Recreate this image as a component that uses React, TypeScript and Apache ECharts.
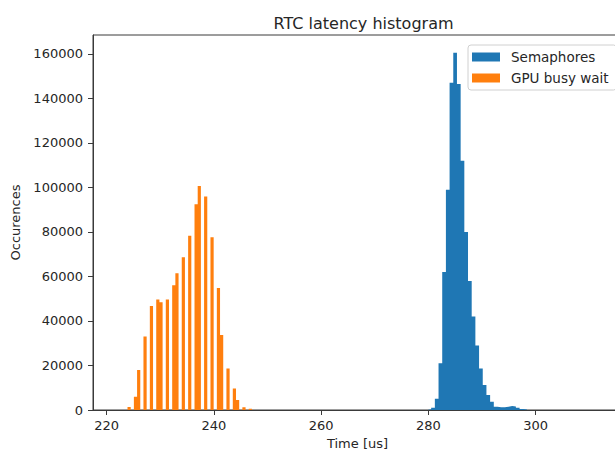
import React, { useEffect, useRef } from "react";
import * as echarts from "echarts";

// ---- data ----
const xTicks = [220, 240, 260, 280, 300];
const yTicks = [0, 20000, 40000, 60000, 80000, 100000, 120000, 140000, 160000];

// Semaphores histogram: first bin edge (us), bin width (us), counts per bin
const semaphoresStart = 279.82;
const semaphoresBinWidth = 0.687;
const semaphoresCounts = [
  300, 1000, 5000, 21000, 62000, 99000, 147000, 160500, 146500, 112000, 80000,
  58000, 42000, 29000, 18700, 11200, 6700, 3700, 1500, 1200, 1200, 1500, 1800,
  1600, 1000, 500, 200,
];

// GPU busy wait histogram
const gpuStart = 223.88;
const gpuBinWidth = 0.595;
const gpuCounts = [
  1300, 0, 6000, 18000, 0, 33000, 0, 46700, 0, 49700, 48400, 0, 49700, 0, 56000,
  61400, 0, 68600, 0, 78300, 0, 92400, 100700, 0, 95900, 0, 77600, 0, 54800,
  33700, 0, 18700, 0, 9700, 4500, 0, 1200, 0, 600,
];

// histogram as step points: [binStart, count] ... then closing edge at 0
const toSteps = (start: number, w: number, counts: number[]) => [
  [start, 0],
  ...counts.map((c, i) => [start + i * w, c]),
  [start + counts.length * w, 0],
];

const FONT = "DejaVu Sans";
const TXT = "#262626";
const AX = "#3a3a3a";

const histSeries = (name: string, color: string, data: number[][]) => ({
  name,
  type: "line",
  step: "end",
  symbol: "none",
  showSymbol: false,
  data,
  itemStyle: { color },
  lineStyle: { width: 0, color },
  areaStyle: { color, opacity: 1 },
  emphasis: { disabled: true },
});

export default function App() {
  const ref = useRef<HTMLDivElement>(null);
  useEffect(() => {
    if (!ref.current) return;
    const chart = echarts.init(ref.current, undefined, { renderer: "svg" });
    chart.setOption({
      animation: false,
      backgroundColor: "#fff",
      textStyle: { fontFamily: FONT },
      title: {
        text: "RTC latency histogram",
        left: 358.5,
        top: 10,
        textAlign: "center",
        textStyle: { fontFamily: FONT, fontSize: 16, fontWeight: "normal", color: TXT },
      },
      legend: {
        orient: "vertical",
        left: 468,
        top: 45,
        padding: [5, 8, 5, 4],
        itemWidth: 28,
        itemHeight: 9,
        itemGap: 7,
        icon: "rect",
        borderColor: "#d0d0d0",
        borderWidth: 1,
        borderRadius: 3,
        backgroundColor: "rgba(255,255,255,0.8)",
        textStyle: {
          fontFamily: FONT,
          fontSize: 13.5,
          color: TXT,
          lineHeight: 13,
          padding: [0, 0, 0, 6],
        },
        data: [
          { name: "Semaphores", itemStyle: { color: "#1f77b4" } },
          { name: "GPU busy wait", itemStyle: { color: "#ff7f0e" } },
        ],
      },
      grid: {
        left: 93,
        top: 35,
        width: 529,
        height: 375,
        outerBoundsMode: "none",
        containLabel: false,
        show: true,
        borderColor: AX,
        borderWidth: 1,
        backgroundColor: "transparent",
      },
      xAxis: {
        type: "value",
        min: 217.445,
        max: 217.445 + 529 / 5.3625,
        name: "Time [us]",
        nameLocation: "middle",
        nameGap: 27,
        nameTextStyle: { fontFamily: FONT, fontSize: 13, color: TXT },
        axisLine: { show: true, lineStyle: { color: AX, width: 1 } },
        axisTick: { show: true, length: 5, customValues: xTicks, lineStyle: { color: AX } },
        axisLabel: {
          customValues: xTicks,
          margin: 9,
          fontFamily: FONT,
          fontSize: 13,
          color: TXT,
          formatter: (v: number) => String(v),
        },
        splitLine: { show: false },
      },
      yAxis: {
        type: "value",
        min: 0,
        max: 168500,
        name: "Occurences",
        nameLocation: "middle",
        nameGap: 66,
        nameTextStyle: { fontFamily: FONT, fontSize: 13, color: TXT },
        axisLine: { show: true, lineStyle: { color: AX, width: 1 } },
        axisTick: { show: true, length: 5, customValues: yTicks, lineStyle: { color: AX } },
        axisLabel: {
          customValues: yTicks,
          margin: 10,
          fontFamily: FONT,
          fontSize: 13,
          color: TXT,
          formatter: (v: number) => String(v),
        },
        splitLine: { show: false },
      },
      series: [
        histSeries(
          "Semaphores",
          "#1f77b4",
          toSteps(semaphoresStart, semaphoresBinWidth, semaphoresCounts)
        ),
        histSeries("GPU busy wait", "#ff7f0e", toSteps(gpuStart, gpuBinWidth, gpuCounts)),
      ],
    });
    return () => chart.dispose();
  }, []);
  return (
    <div
      ref={ref}
      style={{ position: "fixed", left: 0, top: 0, width: 615, height: 452 }}
    />
  );
}
